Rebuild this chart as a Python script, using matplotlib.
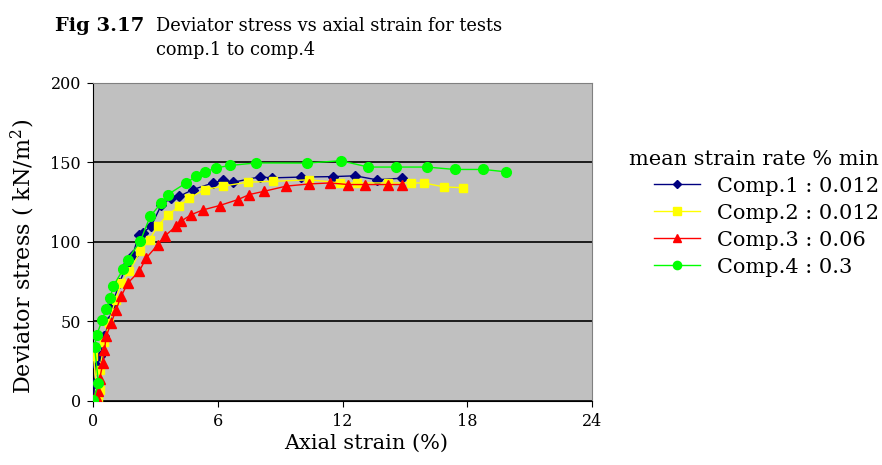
import matplotlib
matplotlib.use("Agg")
import matplotlib.pyplot as plt

plt.rcParams["font.family"] = ["DejaVu Serif"]
plt.rcParams["mathtext.fontset"] = "dejavuserif"

# data: axial strain (%) vs deviator stress (kN/m2)
comp1_x = [0.0, 0.05, 0.15, 0.32, 0.53, 0.75, 0.93, 1.25, 1.57, 1.9, 2.18, 2.38, 2.78,
           3.26, 3.74, 4.14, 4.78, 5.75, 6.26, 6.74, 8.0, 8.6, 10.0, 11.55, 12.6, 13.64, 14.85]
comp1_y = [0, 11, 22, 28, 40.5, 50, 61.5, 74, 84.6, 92, 104.5, 105.6, 110,
           123, 127.6, 128.6, 132.8, 137, 138.7, 137.5, 140.8, 140.2, 140.7, 141, 141.5, 139, 140]

comp2_x = [0.0, 0.2, 0.3, 0.3, 0.53, 0.74, 1.06, 1.33, 1.73, 2.25, 2.7, 3.1, 3.58, 4.14,
           4.62, 5.35, 6.23, 7.43, 8.64, 10.4, 11.87, 12.68, 14.2, 15.3, 15.9, 16.9, 17.8]
comp2_y = [28, 0.6, 7, 19.5, 37, 49, 63.6, 74, 81.4, 94, 101.4, 110, 117, 122.3,
           127.6, 132.8, 135, 137.5, 138, 139, 137, 137, 137, 137, 137, 134.5, 134]

comp3_x = [0.2, 0.2, 0.3, 0.45, 0.53, 0.61, 0.85, 1.09, 1.33, 1.65, 2.2, 2.54, 3.1, 3.42,
           3.98, 4.22, 4.7, 5.26, 6.07, 6.95, 7.5, 8.23, 9.28, 10.4, 11.38, 12.27, 13.1,
           14.2, 14.85]
comp3_y = [0.6, 6, 14, 23.7, 32, 40.5, 49, 57.3, 65.7, 74, 81.4, 89.8, 98.2, 103.5,
           109.8, 113, 117, 120, 122.8, 126.5, 129.7, 131.8, 135, 136.4, 137, 136, 136,
           136, 136]

comp4_x = [0.0, 0.24, 0.05, 0.16, 0.42, 0.61, 0.8, 0.96, 1.44, 1.65, 2.25, 2.73, 3.26,
           3.58, 4.46, 4.94, 5.35, 5.9, 6.58, 7.83, 10.3, 11.9, 13.24, 14.56, 16.05,
           17.4, 18.78, 19.86]
comp4_y = [0.6, 11, 34, 41.5, 51, 57.7, 64.6, 72.4, 82.9, 88.8, 100.3, 116, 124.4,
           129.7, 137, 141.2, 143.8, 146.5, 148, 149.6, 149.5, 151, 147, 147, 147,
           145.5, 145.5, 144]

labels = ["Comp.1 : 0.012", "Comp.2 : 0.012", "Comp.3 : 0.06", "Comp.4 : 0.3"]
x_ticks = [0, 6, 12, 18, 24]
y_ticks = [0, 50, 100, 150, 200]

fig = plt.figure(figsize=(8.82, 4.65), dpi=100)
ax = fig.add_axes([0.106, 0.138, 0.565, 0.684])
ax.set_facecolor("#c0c0c0")

series = [
    (comp1_x, comp1_y, "#000080", "D", 5),
    (comp2_x, comp2_y, "#ffff00", "s", 6),
    (comp3_x, comp3_y, "#ff0000", "^", 7),
    (comp4_x, comp4_y, "#00ff00", "o", 7),
]
for (xs, ys, col, mk, ms), lab in zip(series, labels):
    ax.plot(xs, ys, color=col, marker=mk, markersize=ms, lw=1.0,
            markeredgecolor=col, label=lab, zorder=3)

ax.set_xlim(0, 24)
ax.set_ylim(0, 200)
ax.set_xticks(x_ticks)
ax.set_yticks(y_ticks)
ax.yaxis.grid(True, color="black", lw=1.2)
ax.set_axisbelow(True)
ax.tick_params(labelsize=11.5, length=4, direction="out", color="black", pad=5)
for s in ["top", "right"]:
    ax.spines[s].set_color("#808080")
for s in ["left", "bottom"]:
    ax.spines[s].set_color("black")

ax.set_xlabel("Axial strain (%)", fontsize=15, va="center")
ax.xaxis.set_label_coords(0.547, -0.132)
ax.set_ylabel("Deviator stress ( kN/m$^2$)", fontsize=16, va="center")
ax.yaxis.set_label_coords(-0.142, 0.453)

fig.text(0.062, 0.945, "Fig 3.17", fontsize=14, fontweight="bold", va="center")
fig.text(0.177, 0.945, "Deviator stress vs axial strain for tests", fontsize=12.8, va="center")
fig.text(0.177, 0.893, "comp.1 to comp.4", fontsize=12.8, va="center")

leg = ax.legend(loc="center left", bbox_to_anchor=(1.058, 0.59), frameon=False,
                fontsize=15, title="mean strain rate % min", title_fontsize=15,
                handlelength=2.2, labelspacing=0.38, borderaxespad=0, markerscale=0.85)
leg._legend_box.align = "right"

fig.savefig("out.png", dpi=100)
